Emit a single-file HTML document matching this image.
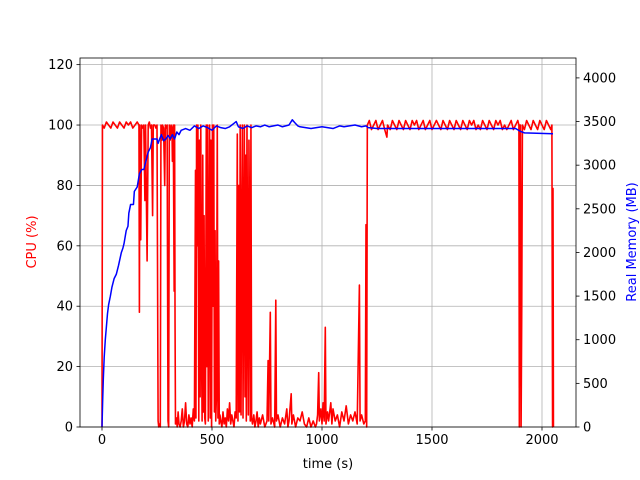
<!DOCTYPE html>
<html><head><meta charset="utf-8"><style>
body{margin:0;background:#fff}
svg{display:block;font-family:"DejaVu Sans","Liberation Sans",sans-serif}
</style></head><body>
<svg id="chart" width="640" height="480"></svg>
<script>
const xTicks=[0,500,1000,1500,2000];
const cpuTicks=[0,20,40,60,80,100,120];
const memTicks=[0,500,1000,1500,2000,2500,3000,3500,4000];
const cpuT=[0,2,10,20,30,40,50,60,70,80,90,100,110,120,130,140,150,160,168,170,172,176,180,185,190,195,198,205,210,215,220,225,230,233,240,245,250,255,258,262,265,268,272,275,280,285,288,292,296,300,303,306,310,314,318,320,324,328,330,332,334,338,342,346,350,355,360,365,370,375,380,385,390,395,400,405,410,415,420,425,427,430,433,436,440,443,446,449,452,455,458,461,464,467,470,474,477,480,483,486,489,492,495,498,502,505,508,511,514,517,520,524,527,530,533,536,540,545,550,555,560,565,570,575,580,585,590,595,600,605,610,615,618,622,625,628,632,635,638,641,644,647,650,653,656,659,662,665,668,671,674,677,680,684,690,695,700,705,710,715,720,730,740,750,755,758,765,768,775,785,790,793,800,810,820,830,840,845,850,860,863,870,880,890,900,910,920,930,940,950,960,970,975,980,985,988,995,1000,1005,1010,1015,1018,1025,1030,1040,1045,1050,1060,1070,1080,1090,1100,1110,1120,1130,1140,1150,1160,1170,1173,1180,1190,1197,1200,1203,1206,1215,1225,1235,1245,1255,1265,1275,1285,1295,1298,1310,1320,1330,1340,1350,1360,1370,1380,1390,1400,1410,1420,1430,1440,1450,1460,1470,1480,1490,1500,1510,1520,1530,1540,1550,1560,1570,1580,1590,1600,1610,1620,1630,1640,1650,1660,1670,1680,1690,1700,1710,1720,1730,1740,1750,1760,1770,1780,1790,1800,1810,1820,1830,1840,1850,1860,1870,1880,1890,1895,1897,1899,1902,1905,1908,1911,1920,1930,1940,1950,1960,1970,1980,1990,2000,2010,2020,2030,2040,2045,2048,2050,2052];
const cpuV=[0,100,99,101,100,99,101,100,99,101,100,99,101,100,101,99,100,101,100,38,100,62,100,99,100,75,100,55,100,101,99,100,70,100,100,99,100,2,0,1,0,100,95,100,99,80,100,99,100,2,0,100,95,100,99,88,100,45,100,35,1,3,0,5,1,0,2,6,0,2,8,1,0,4,1,3,0,6,2,85,3,100,60,100,2,95,10,100,30,2,90,5,70,3,1,100,20,100,2,50,100,3,95,0,100,40,100,5,65,2,10,100,3,55,1,4,2,0,5,1,3,0,6,2,8,1,4,2,0,5,3,97,2,80,5,100,4,65,100,3,55,100,10,90,2,100,45,4,95,60,2,100,3,1,4,0,2,5,0,3,1,4,0,2,22,2,38,1,3,0,42,2,4,0,3,1,6,0,2,11,1,4,0,3,2,5,1,0,3,0,2,0,1,4,18,2,6,1,8,2,33,1,5,2,8,1,6,2,4,0,5,2,7,1,4,2,5,1,47,2,4,1,2,67,0,100,101.5,98.5,100,101.5,98.5,100,101.5,98.5,96,100,98.5,101.5,100,98.5,101.5,100,98.5,101.5,100,98.5,101.5,100,101.5,98.5,100,101.5,98.5,100,101.5,98.5,100,101.5,100,98.5,101.5,100,98.5,101.5,100,98.5,101.5,100,98.5,101.5,100,98.5,101.5,100,101.5,98.5,100,98.5,101.5,100,98.5,101.5,100,98.5,101.5,100,101.5,98.5,100,98.5,100,101.5,98.5,100,101.5,100,0,100,100,0,40,100,98.5,101.5,100,98.5,101.5,100,98.5,101.5,100,98.5,101.5,100,98.5,100,0,79,0];
const memT=[0,3,6,10,15,20,25,30,38,45,55,65,75,88,95,100,110,118,122,130,143,147,160,170,180,190,200,210,220,228,240,250,255,262,270,280,290,300,310,320,330,340,350,360,380,400,420,440,460,480,500,520,540,560,580,600,610,620,640,660,680,700,720,740,760,780,800,820,850,865,875,890,900,950,1000,1050,1080,1100,1150,1180,1200,1210,1250,1880,1900,1920,2050];
const memV=[0,300,550,800,1000,1150,1300,1400,1500,1600,1700,1750,1850,2000,2050,2100,2250,2300,2450,2550,2550,2700,2750,2900,2950,2950,3050,3150,3200,3300,3300,3300,3250,3300,3350,3280,3300,3340,3300,3350,3300,3380,3350,3400,3420,3400,3450,3420,3450,3430,3400,3450,3430,3420,3440,3480,3500,3440,3420,3450,3430,3450,3440,3460,3440,3450,3460,3440,3460,3520,3490,3450,3440,3420,3440,3420,3450,3440,3460,3440,3450,3430,3420,3420,3390,3370,3360];

const L=80,R=576,T=58,B=427;
const xS=t=>102+(t)*0.22;
const yC=v=>B-(v)*(369/122.2);
const yM=v=>B-(v)*(369/4228);
const svg=document.getElementById('chart');
const NS='http://www.w3.org/2000/svg';
function mk(tag,attrs,txt){const e=document.createElementNS(NS,tag);for(const k in attrs)e.setAttribute(k,attrs[k]);if(txt!==undefined)e.textContent=txt;svg.appendChild(e);return e;}

xTicks.forEach(t=>{const x=xS(t);
 const g=mk('line',{x1:x,x2:x,y1:T,y2:B,stroke:'#b0b0b0','stroke-width':0.8});
 
 
 mk('line',{x1:x,x2:x,y1:B,y2:B+3.5,stroke:'#000','stroke-width':0.8});
 const l=mk('text',{x:x,y:B+17,'font-size':13,'text-anchor':'middle'},t);
 
 
});
cpuTicks.forEach(v=>{const y=yC(v);
 const g=mk('line',{x1:L,x2:R,y1:y,y2:y,stroke:'#b0b0b0','stroke-width':0.8});
 
 
 mk('line',{x1:L-3.5,x2:L,y1:y,y2:y,stroke:'#000','stroke-width':0.8});
 const l=mk('text',{x:L-7,y:y+4.5,'font-size':13,'text-anchor':'end'},v);
 
 
});
memTicks.forEach(v=>{const y=yM(v);
 mk('line',{x1:R,x2:R+3.5,y1:y,y2:y,stroke:'#000','stroke-width':0.8});
 const l=mk('text',{x:R+7,y:y+4.5,'font-size':13,'text-anchor':'start'},v);
 
 
});

const cp=mk('polyline',{points:cpuT.map((t,i)=>xS(t).toFixed(2)+','+yC(cpuV[i]).toFixed(2)).join(' '),fill:'none',stroke:'#ff0000','stroke-width':1.6,'stroke-linejoin':'round'});


const mp=mk('polyline',{points:memT.map((t,i)=>xS(t).toFixed(2)+','+yM(memV[i]).toFixed(2)).join(' '),fill:'none',stroke:'#0000ff','stroke-width':1.5,'stroke-linejoin':'round'});



const fr=mk('rect',{x:L,y:T,width:R-L,height:B-T,fill:'none',stroke:'#000','stroke-width':0.8});



const xl=mk('text',{x:328,y:468,'font-size':13,'text-anchor':'middle'},'time (s)');


const yl=mk('text',{x:0,y:0,'font-size':13,'text-anchor':'middle',fill:'#ff0000',transform:'translate(36,242) rotate(-90)'},'CPU (%)');


const yr=mk('text',{x:0,y:0,'font-size':13,'text-anchor':'middle',fill:'#0000ff',transform:'translate(636,242) rotate(-90)'},'Real Memory (MB)');


</script>
</body></html>
